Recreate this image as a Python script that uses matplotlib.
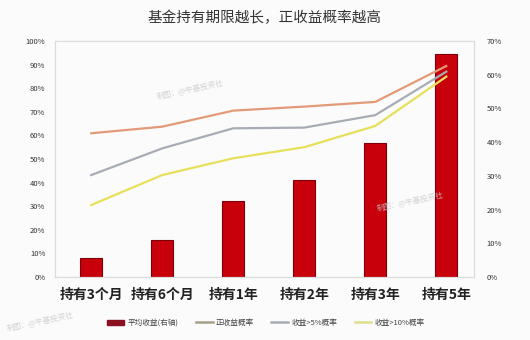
import matplotlib
matplotlib.use("Agg")
import matplotlib.pyplot as plt
from matplotlib.lines import Line2D
from matplotlib.patches import Patch

plt.rcParams["font.family"] = ["Noto Sans CJK SC", "DejaVu Sans"]

periods = ["持有3个月", "持有6个月", "持有1年", "持有2年", "持有3年", "持有5年"]
avg_return = [5.6, 11.0, 22.6, 28.7, 39.6, 66.0]      # right axis, %
prob_positive = [60.9, 63.7, 70.5, 72.2, 74.2, 89.4]   # left axis, %
prob_over5 = [43.2, 54.5, 63.0, 63.3, 68.6, 87.0]
prob_over10 = [30.5, 43.2, 50.3, 55.0, 64.0, 84.9]

left_ticks = list(range(0, 101, 10))
right_ticks = list(range(0, 71, 10))

bar_color = "#c8000c"
bar_edge = "#7d0008"
c_pos = "#e39a78"
c_5 = "#a8acb4"
c_10 = "#e6e05a"
tick_color = "#333333"

fig = plt.figure(figsize=(5.3, 3.4), dpi=100)
fig.patch.set_facecolor("#fbfbfb")

W, H = 530, 340
ax = fig.add_axes([55 / W, 1 - 277 / H, (474 - 55) / W, (277 - 41) / H])
ax2 = ax.twinx()

x = list(range(len(periods)))

ax2.bar(x, avg_return, width=0.31, color=bar_color, edgecolor=bar_edge,
        linewidth=0.8, zorder=2)
ax2.set_ylim(0, 70)
ax2.set_yticks(right_ticks)
ax2.set_yticklabels([f"{t}%" for t in right_ticks])

ax.plot(x, prob_positive, color=c_pos, lw=1.6, zorder=3)
ax.plot(x, prob_over5, color=c_5, lw=1.6, zorder=3)
ax.plot(x, prob_over10, color=c_10, lw=1.6, zorder=3)
ax.set_ylim(0, 100)
ax.set_yticks(left_ticks)
ax.set_yticklabels([f"{t}%" for t in left_ticks])

# lines drawn above the bars
ax.set_zorder(2)
ax.patch.set_visible(False)
ax2.set_zorder(1)
ax2.patch.set_facecolor("white")

ax.set_xlim(-0.51, 5.39)
ax.set_xticks(x)
ax.set_xticklabels(periods, fontsize=10, fontweight="bold", color="#222222")

for a in (ax, ax2):
    a.tick_params(axis="both", length=0, colors=tick_color, labelsize=5.5)
    for s in a.spines.values():
        s.set_color("#dcdcdc")
        s.set_linewidth(0.8)
ax.tick_params(axis="x", labelsize=10, pad=8, colors="#222222")
ax.tick_params(axis="y", pad=7)
ax2.tick_params(axis="y", pad=9)

fig.text(0.5, 1 - 18 / H, "基金持有期限越长，正收益概率越高",
         ha="center", va="center", fontsize=10.5, color="#333333")

# faint watermarks
for wx, wy in [(190 / W, 1 - 90 / H), (410 / W, 1 - 202 / H), (40 / W, 1 - 322 / H)]:
    fig.text(wx, wy, "制图：@牛基投资社", fontsize=5.5, color="#c8c8c8",
             rotation=12, ha="center", va="center", alpha=0.8)

handles = [
    Patch(facecolor="#8a1020", edgecolor="#8a1020"),
    Line2D([0], [0], color="#a8a088", lw=1.8),
    Line2D([0], [0], color=c_5, lw=1.8),
    Line2D([0], [0], color="#dfe08a", lw=1.8),
]
labels = ["平均收益(右轴)", "正收益概率", "收益>5%概率", "收益>10%概率"]
fig.legend(handles, labels, loc="center", bbox_to_anchor=(266 / W, 1 - 323 / H),
           ncol=4, frameon=False, fontsize=5.5, handlelength=2.2,
           handleheight=0.6, columnspacing=2.3, handletextpad=0.4,
           labelcolor="#444444")

fig.savefig("out.png", dpi=100, facecolor=fig.get_facecolor())
